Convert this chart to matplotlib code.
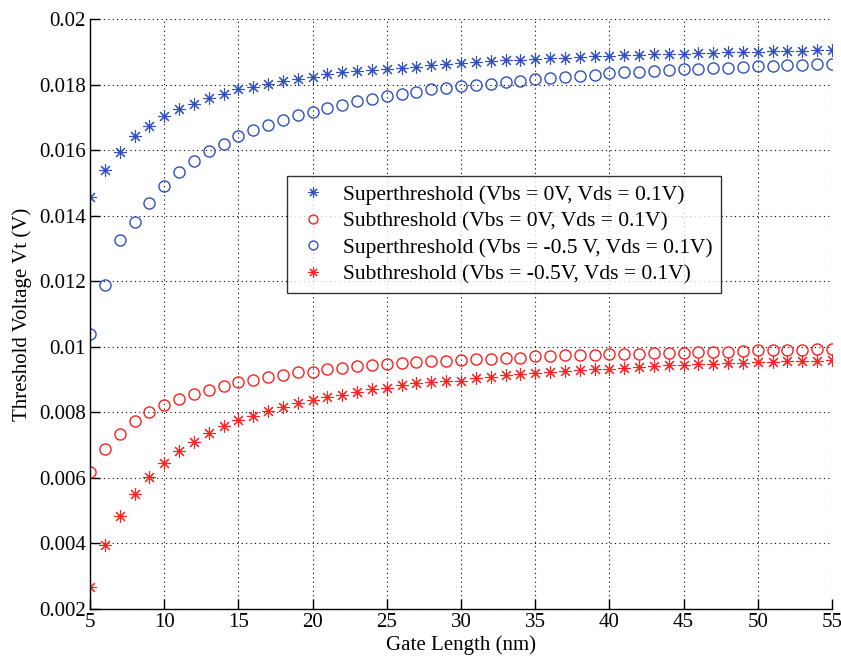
import matplotlib
matplotlib.use("Agg")
import matplotlib.pyplot as plt

# gate length (nm)
gate_length = list(range(5, 56))

# Superthreshold (Vbs = 0V, Vds = 0.1V)
super_vbs0 = [
    0.01458, 0.01539, 0.01595, 0.01643, 0.01674, 0.01703, 0.01724, 0.01742,
    0.01759, 0.01771, 0.01785, 0.01792, 0.01803, 0.01811, 0.01818, 0.01824,
    0.01832, 0.01837, 0.01842, 0.01845, 0.01848, 0.01852, 0.01855, 0.01859,
    0.01863, 0.01866, 0.01869, 0.01871, 0.01874, 0.01876, 0.01878, 0.01880,
    0.01882, 0.01884, 0.01886, 0.01887, 0.01889, 0.01890, 0.01892, 0.01893,
    0.01894, 0.01895, 0.01897, 0.01898, 0.01899, 0.01900, 0.01901, 0.01902,
    0.01903, 0.01904, 0.01905,
]

# Subthreshold (Vbs = 0V, Vds = 0.1V)
sub_vbs0 = [
    0.006173, 0.006883, 0.007340, 0.007726, 0.008000, 0.008234, 0.008406,
    0.008558, 0.008690, 0.008812, 0.008934, 0.008985, 0.009066, 0.009147,
    0.009218, 0.009239, 0.009310, 0.009350, 0.009401, 0.009431, 0.009472,
    0.009503, 0.009533, 0.009563, 0.009560, 0.009594, 0.009624, 0.009624,
    0.009655, 0.009665, 0.009706, 0.009716, 0.009746, 0.009756, 0.009756,
    0.009777, 0.009777, 0.009787, 0.009807, 0.009817, 0.009817, 0.009848,
    0.009848, 0.009848, 0.009858, 0.009888, 0.009888, 0.009898, 0.009898,
    0.009929, 0.009939,
]

# Superthreshold (Vbs = -0.5 V, Vds = 0.1V)
super_vbs05 = [
    0.01039, 0.01187, 0.01326, 0.01381, 0.01440, 0.01489, 0.01532, 0.01567,
    0.01596, 0.01620, 0.01643, 0.01661, 0.01678, 0.01692, 0.01706, 0.01717,
    0.01728, 0.01738, 0.01749, 0.01756, 0.01764, 0.01772, 0.01777, 0.01786,
    0.01790, 0.01795, 0.01798, 0.01803, 0.01808, 0.01812, 0.01816, 0.01820,
    0.01824, 0.01827, 0.01830, 0.01834, 0.01837, 0.01839, 0.01841, 0.01843,
    0.01846, 0.01848, 0.01850, 0.01852, 0.01854, 0.01856, 0.01858, 0.01860,
    0.01861, 0.01863, 0.01864,
]

# Subthreshold (Vbs = -0.5V, Vds = 0.1V)
sub_vbs05 = [
    0.002670, 0.003939, 0.004832, 0.005513, 0.006041, 0.006467, 0.006832,
    0.007107, 0.007360, 0.007574, 0.007766, 0.007878, 0.008030, 0.008173,
    0.008294, 0.008386, 0.008457, 0.008538, 0.008629, 0.008701, 0.008741,
    0.008843, 0.008883, 0.008914, 0.008954, 0.008964, 0.009056, 0.009086,
    0.009137, 0.009168, 0.009208, 0.009218, 0.009249, 0.009279, 0.009310,
    0.009320, 0.009350, 0.009381, 0.009401, 0.009431, 0.009442, 0.009462,
    0.009472, 0.009492, 0.009503, 0.009523, 0.009533, 0.009553, 0.009563,
    0.009574, 0.009594,
]

labels = [
    "Superthreshold (Vbs = 0V, Vds = 0.1V)",
    "Subthreshold (Vbs = 0V, Vds = 0.1V)",
    "Superthreshold (Vbs = -0.5 V, Vds = 0.1V)",
    "Subthreshold (Vbs = -0.5V, Vds = 0.1V)",
]

xticks = [5, 10, 15, 20, 25, 30, 35, 40, 45, 50, 55]
yticks = [0.002, 0.004, 0.006, 0.008, 0.01, 0.012, 0.014, 0.016, 0.018, 0.02]
ytick_labels = ["0.002", "0.004", "0.006", "0.008", "0.01", "0.012",
                "0.014", "0.016", "0.018", "0.02"]

blue = "#3050c0"
red = "#ff2020"
star = (8, 2, 0)

plt.rcParams["font.family"] = ["Liberation Serif", "DejaVu Serif"]

fig = plt.figure(figsize=(8.41, 6.59), dpi=100)
ax = fig.add_axes([90 / 841, 50 / 659, 742 / 841, 590 / 659])

ax.plot(gate_length, super_vbs0, linestyle="none", marker=star,
        markersize=9, markeredgewidth=0.8, color=blue, label=labels[0])
ax.plot(gate_length, sub_vbs0, linestyle="none", marker="o",
        markersize=8, markeredgewidth=1.0, markerfacecolor="none",
        markeredgecolor=red, label=labels[1])
ax.plot(gate_length, super_vbs05, linestyle="none", marker="o",
        markersize=8, markeredgewidth=1.0, markerfacecolor="none",
        markeredgecolor=blue, label=labels[2])
ax.plot(gate_length, sub_vbs05, linestyle="none", marker=star,
        markersize=9, markeredgewidth=0.8, color=red, label=labels[3])

ax.set_xlim(5, 55)
ax.set_ylim(0.002, 0.02)
ax.set_xticks(xticks)
ax.set_yticks(yticks)
ax.set_yticklabels(ytick_labels)
ax.tick_params(direction="in", length=7, width=1, labelsize=15, pad=3)

ax.grid(True, linestyle=(0, (1, 3)), color="black", linewidth=0.8)
ax.set_axisbelow(True)
for side in ["top", "right"]:
    ax.spines[side].set_visible(False)
for side in ["left", "bottom"]:
    ax.spines[side].set_linewidth(1.0)

ax.set_xlabel("Gate Length (nm)", fontsize=15, labelpad=2)
ax.set_ylabel("Threshold Voltage Vt (V)", fontsize=15, labelpad=5)

leg = ax.legend(loc="upper left", bbox_to_anchor=(0.2655, 0.734), fontsize=15.5,
                frameon=True, fancybox=False, edgecolor="black",
                borderpad=0.4, labelspacing=0.3, handlelength=1.6,
                handletextpad=0.6, borderaxespad=0, markerscale=0.8)
leg.get_frame().set_linewidth(1.0)

fig.savefig("out.png", dpi=100)
